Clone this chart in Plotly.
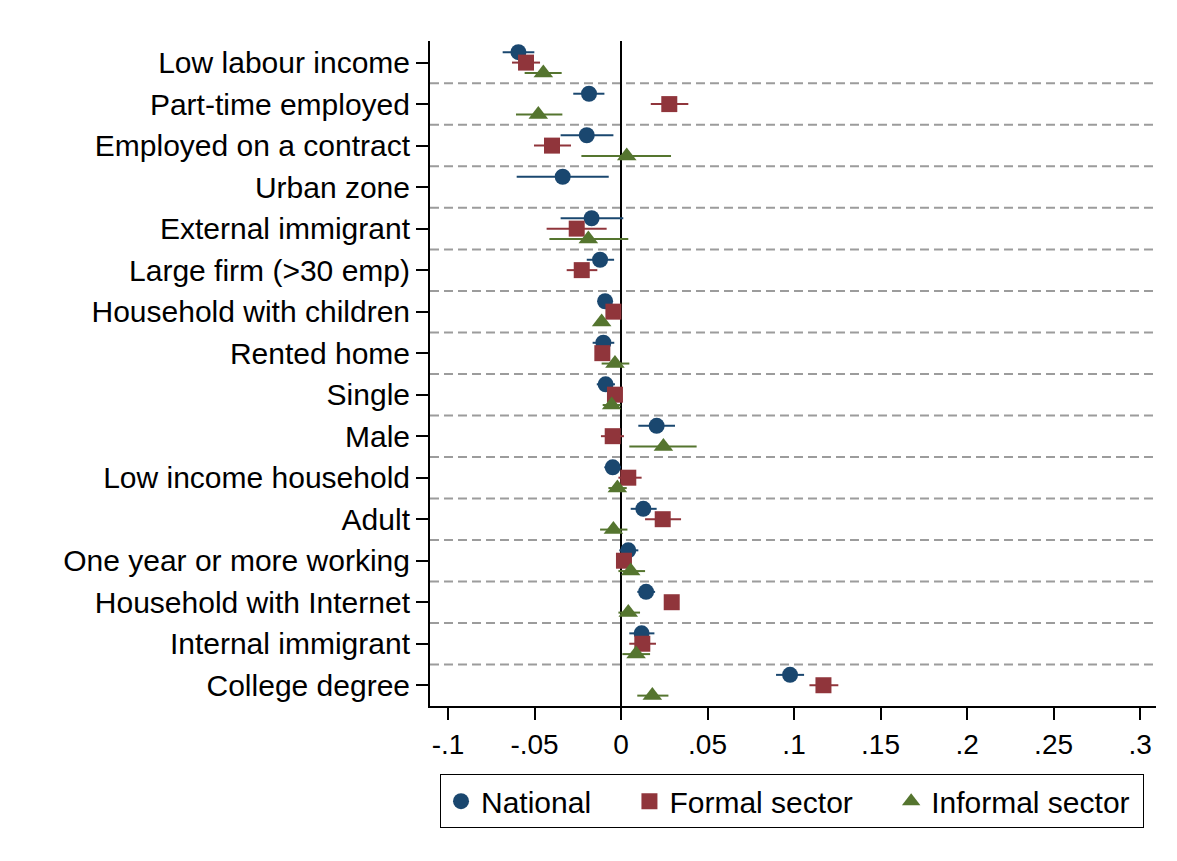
import plotly.graph_objects as go

# Covariates, listed top to bottom
categories = [
    "Low labour income", "Part-time employed", "Employed on a contract", "Urban zone",
    "External immigrant", "Large firm (>30 emp)", "Household with children", "Rented home",
    "Single", "Male", "Low income household", "Adult", "One year or more working",
    "Household with Internet", "Internal immigrant", "College degree",
]

# Point estimates with lower / upper confidence bounds
national = [-0.0593, -0.0185, -0.0198, -0.0337, -0.0170, -0.0121, -0.0092, -0.0102,
            -0.0089, 0.0206, -0.0048, 0.0129, 0.0042, 0.0145, 0.0119, 0.0977]
national_lo = [-0.0684, -0.0276, -0.0349, -0.0603, -0.0349, -0.0198, -0.0112, -0.0164,
               -0.0140, 0.0100, -0.0096, 0.0056, -0.0010, 0.0094, 0.0048, 0.0896]
national_hi = [-0.0501, -0.0096, -0.0044, -0.0071, 0.0013, -0.0040, -0.0072, -0.0039,
               -0.0035, 0.0312, 0.0000, 0.0206, 0.0100, 0.0197, 0.0193, 0.1058]

formal = [-0.0549, 0.0279, -0.0399, None, -0.0256, -0.0227, -0.0044, -0.0108,
          -0.0035, -0.0048, 0.0042, 0.0241, 0.0017, 0.0293, 0.0123, 0.1170]
formal_lo = [-0.0630, 0.0172, -0.0503, None, -0.0430, -0.0314, -0.0060, -0.0125,
             -0.0050, -0.0116, -0.0015, 0.0139, 0.0005, 0.0280, 0.0048, 0.1089]
formal_hi = [-0.0468, 0.0389, -0.0289, None, -0.0083, -0.0137, -0.0028, -0.0090,
             -0.0020, 0.0017, 0.0119, 0.0347, 0.0030, 0.0306, 0.0202, 0.1256]

informal = [-0.0449, -0.0478, 0.0033, None, -0.0189, None, -0.0112, -0.0035,
            -0.0054, 0.0245, -0.0021, -0.0044, 0.0056, 0.0042, 0.0087, 0.0181]
informal_lo = [-0.0557, -0.0607, -0.0229, None, -0.0414, None, -0.0125, -0.0112,
               -0.0106, 0.0048, -0.0073, -0.0121, -0.0015, -0.0015, 0.0008, 0.0094]
informal_hi = [-0.0343, -0.0339, 0.0289, None, 0.0042, None, -0.0098, 0.0048,
               -0.0002, 0.0437, 0.0033, 0.0037, 0.0139, 0.0110, 0.0168, 0.0274]

xtick_vals = [-0.1, -0.05, 0, 0.05, 0.1, 0.15, 0.2, 0.25, 0.3]
xtick_text = ["-.1", "-.05", "0", ".05", ".1", ".15", ".2", ".25", ".3"]

NBSP = "\u00a0"
series = [
    ("National", 4, national, national_lo, national_hi, "#1a476f", "circle", 16, -0.25),
    ("Formal sector", 4, formal, formal_lo, formal_hi, "#90353b", "square", 16, 0.0),
    ("Informal sector", 1, informal, informal_lo, informal_hi, "#55752f", "triangle-up", 17, 0.25),
]

FONT = "Liberation Sans, Arial, sans-serif"

fig = go.Figure()
for name, pad, est, lo, hi, color, symbol, size, shift in series:
    ys, xs, plus, minus = [], [], [], []
    for i, v in enumerate(est):
        if v is None:
            continue
        ys.append(i + shift)
        xs.append(v)
        plus.append(hi[i] - v)
        minus.append(v - lo[i])
    fig.add_trace(go.Scatter(
        x=xs, y=ys, mode="markers", name=name + NBSP * pad,
        marker=dict(symbol=symbol, size=size, color=color, line=dict(width=0)),
        error_x=dict(type="data", symmetric=False, array=plus, arrayminus=minus,
                     color=color, thickness=2, width=0),
    ))

# Dashed separators between neighbouring covariates
for i in range(len(categories) - 1):
    fig.add_shape(type="line", xref="paper", x0=0, x1=1, yref="y", y0=i + 0.5, y1=i + 0.5,
                  line=dict(color="#9c9c9c", width=2, dash="9px,5px"), layer="below")

fig.update_layout(
    width=1177, height=861,
    margin=dict(l=430, r=21, t=41, b=155),
    paper_bgcolor="white", plot_bgcolor="white",
    font=dict(family=FONT, color="black"),
    showlegend=True,
    legend=dict(
        orientation="h", x=0.0138, y=-0.1025, xanchor="left", yanchor="top",
        bordercolor="black", borderwidth=1, font=dict(size=30, family=FONT),
        itemsizing="trace",
    ),
)

fig.update_xaxes(
    range=[-0.1104, 0.3092], tickvals=xtick_vals, ticktext=xtick_text,
    showgrid=False, zeroline=True, zerolinecolor="black", zerolinewidth=2,
    showline=True, linecolor="black", linewidth=2,
    ticks="outside", ticklen=12, tickwidth=2, tickcolor="black",
    tickfont=dict(size=28, family=FONT), ticklabelstandoff=0,
)
fig.update_yaxes(
    range=[15.5, -0.52], tickvals=list(range(len(categories))), ticktext=categories,
    showgrid=False, zeroline=False,
    showline=True, linecolor="black", linewidth=2,
    ticks="outside", ticklen=12, tickwidth=2, tickcolor="black",
    tickfont=dict(size=30, family=FONT), ticklabelstandoff=0,
)

fig.write_html("out.html")
